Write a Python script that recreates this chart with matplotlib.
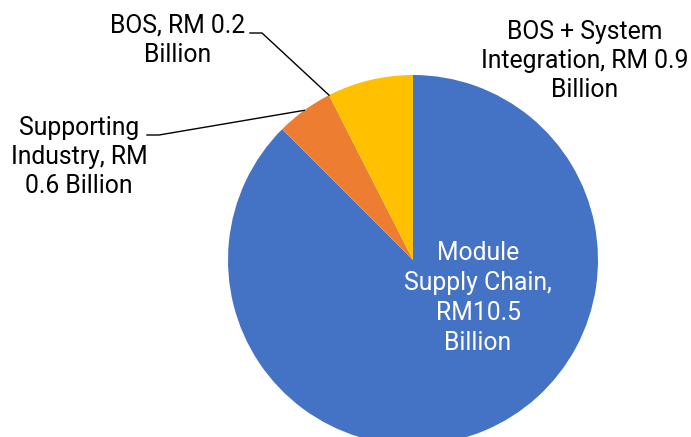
import numpy as np
import matplotlib
matplotlib.use("Agg")
import matplotlib.pyplot as plt
from matplotlib.lines import Line2D

plt.rcParams['font.family'] = ['Roboto', 'DejaVu Sans']

# data (BOS slice is drawn with no visible width in the original)
categories = ['Module Supply Chain', 'Supporting Industry', 'BOS', 'BOS + System Integration']
values = [10.5, 0.6, 0.0, 0.9]
labels = ['Module\nSupply Chain,\nRM10.5\nBillion',
          'Supporting\nIndustry, RM\n0.6 Billion',
          'BOS, RM 0.2\nBillion',
          'BOS + System\nIntegration, RM 0.9\nBillion']
colors = ['#4472C4', '#ED7D31', '#A5A5A5', '#FFC000']

W, H = 691, 437
fig = plt.figure(figsize=(W / 100, H / 100), dpi=100)

cx, cy, r = 413, 260, 185  # pixel position of the pie
ax = fig.add_axes([(cx - r) / W, (H - cy - r) / H, 2 * r / W, 2 * r / H])
wedges, _ = ax.pie(values, colors=colors, startangle=90, counterclock=False,
                   radius=1, wedgeprops=dict(linewidth=0))
ax.set_xlim(-1, 1)
ax.set_ylim(-1, 1)
ax.axis('off')
for w in wedges:
    w.set_clip_on(False)


def px(x, y):
    return x / W, 1 - y / H


def edge_point(angle_deg):
    a = np.deg2rad(angle_deg)
    d = ax.transData.transform((np.cos(a), np.sin(a)))
    return fig.transFigure.inverted().transform(d)


fs = 17.8
ls = 1.27
# module label inside
fig.text(*px(478, 298), labels[0], color='white', fontsize=fs, ha='center', va='center',
         linespacing=1.3)
# supporting industry
fig.text(*px(79, 157), labels[1], color='black', fontsize=fs, ha='center', va='center',
         linespacing=ls)
# BOS
fig.text(*px(178, 40), labels[2], color='black', fontsize=fs, ha='center', va='center',
         linespacing=ls)
# BOS + SI
fig.text(*px(585, 61), labels[3], color='black', fontsize=fs, ha='center', va='center',
         linespacing=ls)

# leader lines
w_sup = wedges[1]
mid_sup = (w_sup.theta1 + w_sup.theta2) / 2
p_sup = edge_point(mid_sup)
a, b = px(147, 135), px(159, 135)
fig.add_artist(Line2D([a[0], b[0], p_sup[0]], [a[1], b[1], p_sup[1]],
                      color='black', lw=1, transform=fig.transFigure))

w_bos = wedges[2]
p_bos = edge_point(w_bos.theta1)
a, b = px(250, 33), px(262, 33)
fig.add_artist(Line2D([a[0], b[0], p_bos[0]], [a[1], b[1], p_bos[1]],
                      color='black', lw=1, transform=fig.transFigure))

fig.savefig('out.png', dpi=100)
